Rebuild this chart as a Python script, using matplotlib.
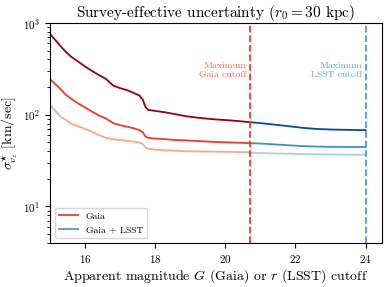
import numpy as np
import matplotlib
matplotlib.use("Agg")
import matplotlib.pyplot as plt

plt.rcParams["font.family"] = "serif"
plt.rcParams["font.serif"] = ["cmr10", "DejaVu Serif"]
plt.rcParams["mathtext.fontset"] = "cm"
plt.rcParams["axes.formatter.use_mathtext"] = True

# ==========================
# Data
# ==========================
mag_gaia = [15.0, 15.3, 15.45, 15.6, 15.8, 16.0, 16.2, 16.4, 16.6, 16.8, 17.0,
            17.2, 17.4, 17.55, 17.65, 17.72, 17.8, 18.0, 18.3, 18.6, 18.9,
            19.3, 19.7, 20.1, 20.4, 20.7]
sig_hi = [760, 560, 485, 430, 380, 335, 300, 270, 245, 208, 195,
          185, 172, 162, 145, 122, 113, 110, 106, 101, 96,
          92, 89, 87, 85, 83]
sig_mid = [245, 190, 165, 150, 133, 120, 108, 98, 91, 81, 77,
           74, 71, 68, 64, 58, 56, 55, 54, 53, 52.5,
           51.5, 50.5, 50, 49.5, 49]
sig_lo = [128, 95, 88, 80, 75, 70, 65, 60, 56, 54, 53,
          52, 51, 50, 48, 44, 42.5, 41.5, 41, 40.5, 40,
          39.8, 39.6, 39.4, 39.2, 39]

mag_lsst = [20.7, 21.0, 21.4, 21.8, 22.2, 22.6, 23.0, 23.4, 23.8, 24.0]
sig_hi_lsst = [83, 81, 78, 75, 72, 70, 69, 68.5, 68, 68]
sig_mid_lsst = [49, 48.5, 47.5, 46.5, 45.5, 45, 44.7, 44.5, 44.5, 44.5]
sig_lo_lsst = [38.5, 38.2, 37.9, 37.6, 37.3, 37.1, 36.9, 36.8, 36.7, 36.7]

gaia_cut = 20.7
lsst_cut = 24.0

# ==========================
# Palette
# ==========================
reds = ["#99000d", "#ef3b2c", "#fca68a"]
blues = ["#08479a", "#3f8fc5", "#a9cfe5"]
gaia_line = "#ee3a33"
lsst_line = "#4a9fd4"

fig = plt.figure(figsize=(3.89, 2.87), dpi=100)
ax = fig.add_axes([0.1285, 0.1533, 0.8535, 0.7667])

for s, c in zip([sig_hi, sig_mid, sig_lo], reds):
    ax.plot(mag_gaia, s, color=c, lw=1.3)
for s, c in zip([sig_hi_lsst, sig_mid_lsst, sig_lo_lsst], blues):
    ax.plot(mag_lsst, s, color=c, lw=1.3)

ax.axvline(gaia_cut, color=gaia_line, ls="--", lw=1.3)
ax.axvline(lsst_cut, color=lsst_line, ls="--", lw=1.3)

ax.text(gaia_cut - 0.1, 0.785, "Maximum\nGaia cutoff", transform=ax.get_xaxis_transform(),
        ha="right", va="center", color="#f26b5f", fontsize=7, linespacing=1.1)
ax.text(lsst_cut - 0.1, 0.785, "Maximum\nLSST cutoff", transform=ax.get_xaxis_transform(),
        ha="right", va="center", color="#6aaedc", fontsize=7, linespacing=1.1)

# legend proxies
ax.plot([], [], color=gaia_line, lw=1.3, label="Gaia")
ax.plot([], [], color=lsst_line, lw=1.3, label="Gaia + LSST")
ax.legend(loc="lower left", fontsize=7, handlelength=2.0)

ax.set_yscale("log")
ax.set_xlim(15, 24.47)
ax.set_ylim(4, 1000)
ax.set_xticks([16, 18, 20, 22, 24])
ax.tick_params(labelsize=8)
ax.set_xlabel(r"Apparent magnitude $G$ (Gaia) or $r$ (LSST) cutoff", fontsize=10, labelpad=2)
ax.set_ylabel(r"$\sigma^{\star}_{v_z}$ [km/sec]", fontsize=10, labelpad=2)
ax.set_title(r"Survey-effective uncertainty ($r_0 = 30$ kpc)", fontsize=11, pad=4)

fig.savefig("out.png", dpi=100)
